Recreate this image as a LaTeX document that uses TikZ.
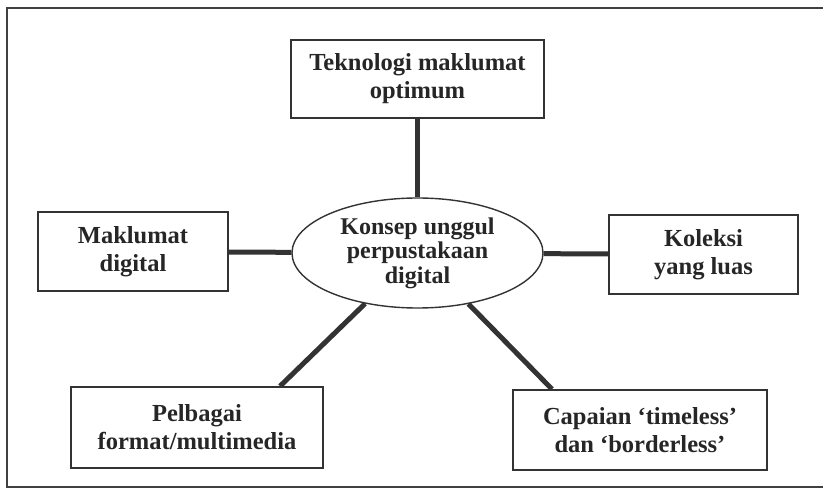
\documentclass[tikz,border=0pt]{standalone}
\usepackage{fontspec}
\setmainfont{Liberation Serif}
\usetikzlibrary{shapes,positioning,calc}

\begin{document}
\begin{tikzpicture}[x=1pt, y=-1pt,
    box/.style={draw=black!80, line width=1.6pt, rectangle, fill=white, align=center, inner sep=0pt,
        text=black!85, font=\bfseries\fontsize{24.5}{28}\selectfont},
    hubshape/.style={draw=black!80, line width=1.4pt, ellipse, fill=white, align=center, inner sep=0pt,
        text=black!85, font=\bfseries\fontsize{24}{24.5}\selectfont},
    link/.style={draw=black!80, line width=5pt}]
    \useasboundingbox (0,0) rectangle (823,497);
    \draw[line width=2.5pt, black!75] (823,8) -- (7,8) -- (7,487) -- (823,487);

    \node[hubshape, minimum width=251pt, minimum height=110pt] (hub) at (417.5,253) {Konsep unggul\\perpustakaan\\digital};

    \node[box, minimum width=253pt, minimum height=78pt] (tek) at (417.5,79) {Teknologi maklumat\\optimum};
    \node[box, minimum width=190pt, minimum height=79pt] (mak) at (133,251.5) {Maklumat\\digital};
    \node[box, minimum width=189pt, minimum height=79pt] (kol) at (703.5,254.5) {Koleksi\\yang luas};
    \node[box, minimum width=252pt, minimum height=81pt] (pel) at (197,427.5) {Pelbagai\\format/multimedia};
    \node[box, minimum width=254pt, minimum height=80pt] (cap) at (640,430) {Capaian `timeless'\\dan `borderless'};

    \draw[link] (tek) -- (hub);
    \draw[link] (mak) -- (hub);
    \draw[link] (hub) -- (kol);
    \draw[link] (hub.224) -- ([xshift=83pt]pel.north);
    \draw[link] (hub.315) -- ([xshift=-88pt]cap.north);
\end{tikzpicture}
\end{document}
